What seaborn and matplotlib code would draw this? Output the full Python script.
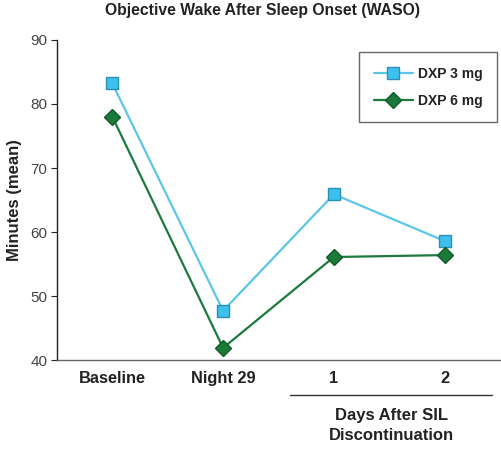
import numpy as np
import pandas as pd
import matplotlib
matplotlib.use("Agg")
import matplotlib.pyplot as plt
import seaborn as sns

# data
timepoints = ["Baseline", "Night 29", "1", "2"]
dxp3 = [83.2, 47.7, 65.9, 58.6]
dxp6 = [78.0, 41.9, 56.1, 56.4]

sns.set_style("white")
plt.rcParams['font.family'] = ['Liberation Sans', 'DejaVu Sans']

df = pd.DataFrame({"time": timepoints * 2,
                   "minutes": dxp3 + dxp6,
                   "group": ["DXP 3 mg"] * 4 + ["DXP 6 mg"] * 4})

fig = plt.figure(figsize=(5.02, 4.49), dpi=100)
ax = fig.add_axes([0.1135, 0.198, 0.8825, 0.713])

sns.lineplot(data=df[df.group == "DXP 3 mg"], x="time", y="minutes", ax=ax,
             color="#5cc6ea", marker="s", markersize=8, markerfacecolor="#3ec0ee",
             markeredgecolor="#2a8fb5", markeredgewidth=1, linewidth=1.6, label="DXP 3 mg")
sns.lineplot(data=df[df.group == "DXP 6 mg"], x="time", y="minutes", ax=ax,
             color="#1c7a3c", marker="D", markersize=8.5, markerfacecolor="#1a7a3a",
             markeredgecolor="#125a2a", markeredgewidth=1, linewidth=1.6, label="DXP 6 mg")

ax.set_xlim(-0.5, 3.5)
ax.set_ylim(40, 90)
ax.set_yticks([40, 50, 60, 70, 80, 90])
ax.set_xticks(range(4))
ax.set_xticklabels(timepoints, fontsize=11.8, fontweight="bold", color="#222222")
ax.set_xticks(np.arange(-0.5, 4, 1), minor=True)
ax.tick_params(axis="x", which="major", length=0, pad=8)
ax.tick_params(axis="x", which="minor", length=4, color="#555555", direction="out")
ax.tick_params(axis="y", length=4, color="#222222", direction="out", labelsize=11,
               labelcolor="#444444", left=True, pad=3)

for s in ["top", "right"]:
    ax.spines[s].set_visible(False)
ax.spines["left"].set_color("#222222")
ax.spines["bottom"].set_color("#666666")
ax.spines["left"].set_linewidth(1.0)
ax.spines["bottom"].set_linewidth(1.0)

ax.set_xlabel("")
ax.set_ylabel("Minutes (mean)", fontsize=12, fontweight="bold", color="#222222", labelpad=6)
ax.set_title("Objective Wake After Sleep Onset (WASO)", fontsize=11.3, fontweight="bold",
             color="#222222", loc="center", x=0.463, pad=18)

# bracket under the post-discontinuation days
tr = ax.get_xaxis_transform()
ax.plot([1.6, 3.43], [-0.109, -0.109], transform=tr, color="#333333", linewidth=1, clip_on=False)
ax.text(2.52, -0.205, "Days After SIL\nDiscontinuation", transform=tr, ha="center", va="center",
        fontsize=12, fontweight="bold", color="#222222", linespacing=1.45)

leg = ax.legend(loc="upper right", bbox_to_anchor=(0.993, 0.9625), borderaxespad=0,
                frameon=True, fancybox=False, edgecolor="#444444", fontsize=10,
                borderpad=1.05, handlelength=2.8, handletextpad=0.35, labelspacing=0.95)
leg.get_frame().set_linewidth(1.0)
for t in leg.get_texts():
    t.set_fontweight("bold")
    t.set_color("#222222")

fig.savefig("out.png", dpi=100)
